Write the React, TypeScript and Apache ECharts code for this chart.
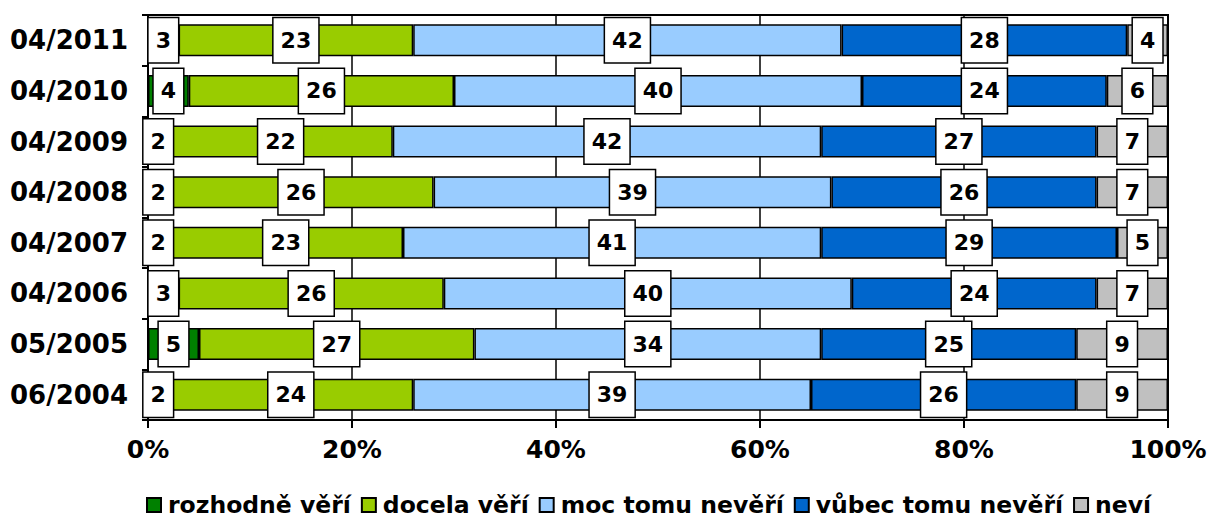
import React, { useEffect, useRef } from "react";
import * as echarts from "echarts";

const categories = ["04/2011", "04/2010", "04/2009", "04/2008", "04/2007", "04/2006", "05/2005", "06/2004"];
const seriesNames = ["rozhodně věří", "docela věří", "moc tomu nevěří", "vůbec tomu nevěří", "neví"];
const rozhodneVeri = [3, 4, 2, 2, 2, 3, 5, 2];
const docelaVeri = [23, 26, 22, 26, 23, 26, 27, 24];
const mocTomuNeveri = [42, 40, 42, 39, 41, 40, 34, 39];
const vubecTomuNeveri = [28, 24, 27, 26, 29, 24, 25, 26];
const nevi = [4, 6, 7, 7, 5, 7, 9, 9];
const xTicks = [0, 20, 40, 60, 80, 100];
const colors = ["#008000", "#99CC00", "#99CCFF", "#0066CC", "#C0C0C0"];

const FONT = "DejaVu Sans";

export default function App() {
  const ref = useRef<HTMLDivElement>(null);
  useEffect(() => {
    if (!ref.current) return;
    const chart = echarts.init(ref.current, undefined, { renderer: "svg" });
    const data = [rozhodneVeri, docelaVeri, mocTomuNeveri, vubecTomuNeveri, nevi];
    chart.setOption({
      animation: false,
      grid: {
        left: 148,
        right: 43,
        top: 15,
        bottom: 100,
        show: true,
        borderColor: "#000",
        borderWidth: 2,
        backgroundColor: "transparent",
      },
      legend: {
        top: 492,
        left: 141,
        icon: "rect",
        itemWidth: 14,
        itemHeight: 14,
        itemGap: 10,
        padding: [0, 5],
        data: seriesNames,
        textStyle: {
          fontFamily: FONT,
          fontWeight: "bold",
          fontSize: 23.5,
          lineHeight: 26,
          color: "#000",
          padding: [0, 0, 0, 2],
        },
      },
      xAxis: {
        type: "value",
        min: 0,
        max: 100,
        interval: 20,
        axisLine: { show: true, lineStyle: { color: "#000", width: 2 } },
        axisTick: { show: true, length: 8, lineStyle: { color: "#000", width: 2 } },
        splitLine: { show: true, lineStyle: { color: "#000", width: 1.5 } },
        axisLabel: {
          formatter: (v: number) => (xTicks.includes(v) ? v + "%" : ""),
          fontFamily: FONT,
          fontWeight: "bold",
          fontSize: 25,
          color: "#000",
          margin: 17,
        },
      },
      yAxis: {
        type: "category",
        inverse: true,
        data: categories,
        axisLine: { show: true, lineStyle: { color: "#000", width: 2 } },
        axisTick: { show: true, length: 6, lineStyle: { color: "#000", width: 2 } },
        axisLabel: {
          fontFamily: FONT,
          fontWeight: "bold",
          fontSize: 26,
          color: "#000",
          margin: 20,
        },
      },
      series: seriesNames.map((name, i) => ({
        name,
        type: "bar",
        stack: "total",
        barWidth: 32,
        data: data[i],
        itemStyle: { color: colors[i], borderColor: "#000", borderWidth: 1.5 },
        label: {
          show: true,
          position: "inside",
          formatter: "{c}",
          fontFamily: FONT,
          fontWeight: "bold",
          fontSize: 22,
          color: "#000",
          backgroundColor: "#fff",
          borderColor: "#000",
          borderWidth: 1.5,
          padding: [12, 7, 10, 7],
        },
      })),
    });
    return () => chart.dispose();
  }, []);
  return <div ref={ref} style={{ position: "absolute", left: 0, top: 0, width: 1211, height: 520 }} />;
}
